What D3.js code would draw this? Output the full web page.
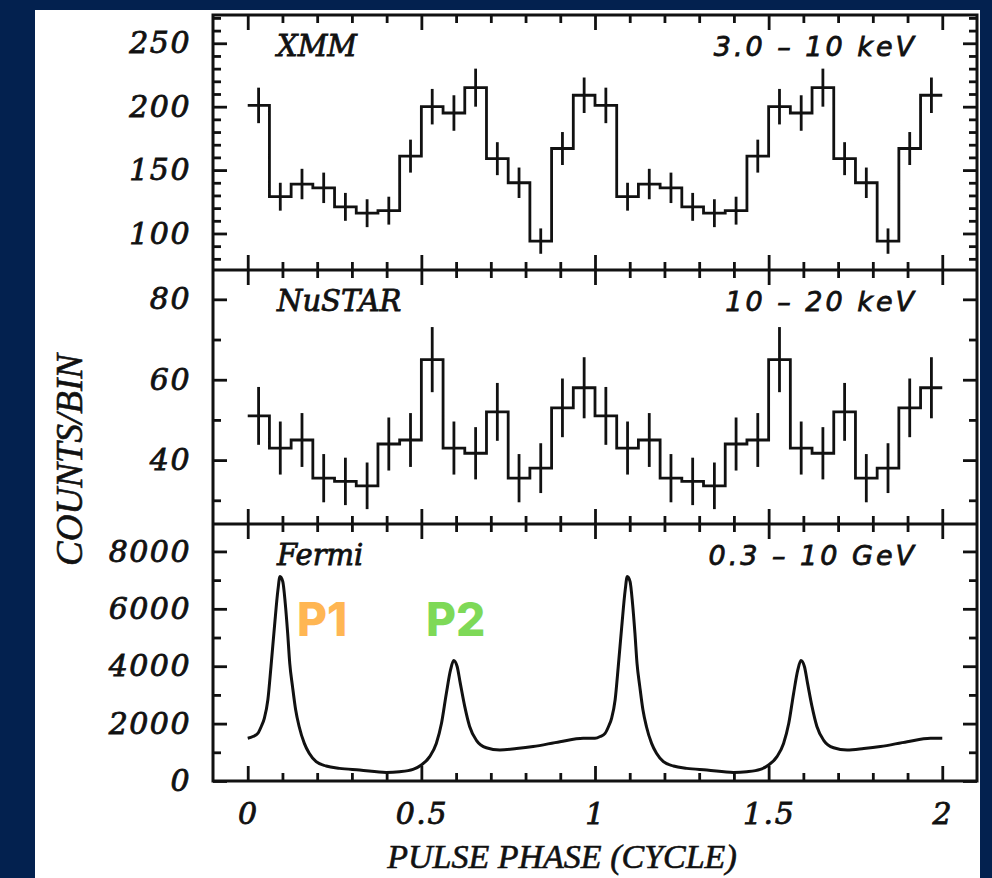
<!DOCTYPE html>
<html>
<head>
<meta charset="utf-8">
<script src="https://cdn.jsdelivr.net/npm/d3@7"></script>
<style>
  body { margin: 0; background: #03214f; }
  svg { display: block; }
</style>
</head>
<body>
<div id="chart"></div>
<script>
// pulse profiles, 16 bins per cycle, shown twice (phase 0-2)
const xmmCounts = [201, 129, 139, 136, 121, 116, 118, 161, 200, 195, 215, 159, 140, 94, 167, 209];
const xmmErrors = [14, 11, 12, 12, 11, 11, 11, 13, 14, 14, 15, 13, 12, 10, 13, 14];
const nuCounts = [51, 43, 45, 35.5, 34.7, 33.6, 44, 45, 65, 43, 41.7, 52, 35.5, 38, 53, 58];
const nuErrors = [7.2, 6.6, 6.7, 6, 5.9, 5.8, 6.6, 6.7, 8.1, 6.6, 6.5, 7.2, 6, 6.2, 7.3, 7.6];

// Fermi light curve, one cycle
const fermiPhase = [0.000, 0.015, 0.029, 0.039, 0.048, 0.058, 0.067, 0.077, 0.087, 0.093, 0.101, 0.108,
  0.115, 0.121, 0.129, 0.138, 0.148, 0.163, 0.177, 0.197, 0.226, 0.264, 0.322, 0.399, 0.437, 0.476,
  0.500, 0.524, 0.543, 0.558, 0.572, 0.584, 0.593, 0.603, 0.612, 0.625, 0.639, 0.659, 0.687, 0.726,
  0.774, 0.822, 0.899, 0.966];
const fermiCounts = [1490, 1550, 1660, 1900, 2190, 2830, 3990, 5380, 6660, 7130, 6950, 6200,
  5150, 4100, 3290, 2480, 1900, 1310, 965, 675, 523, 440, 384, 300, 325, 407,
  558, 850, 1310, 2010, 3060, 3870, 4200, 3990, 3410, 2590, 1900, 1410, 1160, 1080,
  1130, 1200, 1370, 1490];

const xTicksMajor = [0, 0.5, 1, 1.5, 2];
const xTickLabels = ["0", "0.5", "1", "1.5", "2"];

const panels = [
  { name: "XMM", band: "3.0 \u2013 10 keV", top: 15, bottom: 270, domain: [71.2, 272.3],
    major: [100, 150, 200, 250], minorStep: 10, minorFrom: 80, minorTo: 270 },
  { name: "NuSTAR", band: "10 \u2013 20 keV", top: 270, bottom: 524, domain: [24.1, 87.3],
    major: [40, 60, 80], minorStep: 10, minorFrom: 30, minorTo: 80 },
  { name: "Fermi", band: "0.3 \u2013 10 GeV", top: 524, bottom: 781, domain: [0, 8956],
    major: [0, 2000, 4000, 6000, 8000], minorStep: 1000, minorFrom: 1000, minorTo: 8000 }
];

const W = 992, H = 878;
const left = 213, right = 977;
const ink = "#111";

const svg = d3.select("#chart").append("svg")
  .attr("width", W).attr("height", H);

svg.append("rect").attr("width", W).attr("height", H).attr("fill", "#03214f");
svg.append("rect").attr("x", 35).attr("y", 10).attr("width", 945).attr("height", H - 10).attr("fill", "#fff");

const x = d3.scaleLinear().domain([-0.1, 2.1]).range([left, right]);

const xMinor = d3.range(0, 21).map(i => i / 10).filter(v => Math.round(v * 10) % 5 !== 0);

const tickFont = "'DejaVu Serif', serif";

function drawTicks(p, y, idx) {
  const g = svg.append("g");
  const minor = [];
  for (let v = p.minorFrom; v <= p.minorTo + 1e-9; v += p.minorStep) {
    if (!p.major.includes(v)) minor.push(v);
  }
  // left
  g.append("g").attr("transform", `translate(${left},0)`)
    .call(d3.axisLeft(y).tickValues(minor).tickSize(-8).tickFormat(""));
  g.append("g").attr("transform", `translate(${left},0)`)
    .call(d3.axisLeft(y).tickValues(p.major).tickSize(-14).tickPadding(22).tickFormat(d3.format("d")));
  // right
  g.append("g").attr("transform", `translate(${right},0)`)
    .call(d3.axisRight(y).tickValues(minor).tickSize(-8).tickFormat(""));
  g.append("g").attr("transform", `translate(${right},0)`)
    .call(d3.axisRight(y).tickValues(p.major).tickSize(-14).tickFormat(""));
  // top and bottom
  g.append("g").attr("transform", `translate(0,${p.top})`)
    .call(d3.axisTop(x).tickValues(xMinor).tickSize(-8).tickFormat(""));
  g.append("g").attr("transform", `translate(0,${p.top})`)
    .call(d3.axisTop(x).tickValues(xTicksMajor).tickSize(-15).tickFormat(""));
  g.append("g").attr("transform", `translate(0,${p.bottom})`)
    .call(d3.axisBottom(x).tickValues(xMinor).tickSize(-8).tickFormat(""));
  g.append("g").attr("transform", `translate(0,${p.bottom})`)
    .call(d3.axisBottom(x).tickValues(xTicksMajor).tickSize(-15).tickPadding(22)
      .tickFormat((d, i) => idx === 2 ? xTickLabels[i] : ""));

  g.selectAll(".domain").remove();
  g.selectAll(".tick line").attr("stroke", ink).attr("stroke-width", 2.8);
  g.selectAll("text").attr("font-family", tickFont).attr("font-style", "italic")
    .attr("font-size", 30).attr("fill", ink).attr("stroke", ink).attr("stroke-width", 0.8)
    .attr("letter-spacing", 1.5);
}

function drawHist(counts, errors, y) {
  const vals = counts.concat(counts);
  const errs = errors.concat(errors);
  const w = 1 / counts.length;
  const pts = vals.map((v, i) => [i * w, v]);
  pts.push([2, vals[vals.length - 1]]);
  const line = d3.line().x(d => x(d[0])).y(d => y(d[1])).curve(d3.curveStepAfter);
  svg.append("path").attr("d", line(pts))
    .attr("fill", "none").attr("stroke", ink).attr("stroke-width", 2.8);
  svg.append("g").selectAll("line").data(vals).join("line")
    .attr("x1", (d, i) => x((i + 0.5) * w))
    .attr("x2", (d, i) => x((i + 0.5) * w))
    .attr("y1", (d, i) => y(d - errs[i]))
    .attr("y2", (d, i) => y(d + errs[i]))
    .attr("stroke", ink).attr("stroke-width", 2.8);
}

panels.forEach((p, idx) => {
  const y = d3.scaleLinear().domain(p.domain).range([p.bottom, p.top]);
  drawTicks(p, y, idx);

  if (idx === 0) drawHist(xmmCounts, xmmErrors, y);
  if (idx === 1) drawHist(nuCounts, nuErrors, y);
  if (idx === 2) {
    const pts = fermiPhase.map((ph, i) => [ph, fermiCounts[i]])
      .concat(fermiPhase.map((ph, i) => [ph + 1, fermiCounts[i]]));
    pts.push([2, fermiCounts[0]]);
    const line = d3.line().x(d => x(d[0])).y(d => y(d[1])).curve(d3.curveMonotoneX);
    svg.append("path").attr("d", line(pts))
      .attr("fill", "none").attr("stroke", ink).attr("stroke-width", 3)
      .attr("stroke-linejoin", "round");
  }

  svg.append("text").attr("x", 277).attr("y", p.top + 41)
    .attr("font-family", tickFont).attr("font-style", "italic").attr("font-size", 29)
    .attr("fill", ink).attr("stroke", ink).attr("stroke-width", 0.8).text(p.name);
  svg.append("text").attr("x", 917).attr("y", p.top + 41).attr("text-anchor", "end")
    .attr("font-family", "'DejaVu Sans', sans-serif").attr("font-style", "italic").attr("font-size", 27)
    .attr("letter-spacing", 3).attr("fill", ink).attr("stroke", ink).attr("stroke-width", 0.8)
    .text(p.band);
});

// frame
svg.append("rect").attr("x", left).attr("y", panels[0].top)
  .attr("width", right - left).attr("height", panels[2].bottom - panels[0].top)
  .attr("fill", "none").attr("stroke", ink).attr("stroke-width", 3);
panels.slice(1).forEach(p => {
  svg.append("line").attr("x1", left).attr("x2", right).attr("y1", p.top).attr("y2", p.top)
    .attr("stroke", ink).attr("stroke-width", 3);
});

// peak labels
svg.append("text").attr("x", 297).attr("y", 636).attr("font-family", "Inter, sans-serif")
  .attr("font-weight", 800).attr("font-size", 46).attr("fill", "#ffb653").text("P1");
svg.append("text").attr("x", 426).attr("y", 636).attr("font-family", "Inter, sans-serif")
  .attr("font-weight", 800).attr("font-size", 46).attr("fill", "#7ed957").text("P2");

// axis titles
svg.append("text").attr("transform", "translate(82,460) rotate(-90)").attr("text-anchor", "middle")
  .attr("font-family", "'Liberation Serif', serif").attr("font-style", "italic").attr("font-size", 37)
  .attr("fill", ink).attr("stroke", ink).attr("stroke-width", 0.6).text("COUNTS/BIN");
svg.append("text").attr("x", 562).attr("y", 868).attr("text-anchor", "middle")
  .attr("font-family", "'Liberation Serif', serif").attr("font-style", "italic").attr("font-size", 34)
  .attr("fill", ink).attr("stroke", ink).attr("stroke-width", 0.6).text("PULSE PHASE (CYCLE)");
</script>
</body>
</html>
